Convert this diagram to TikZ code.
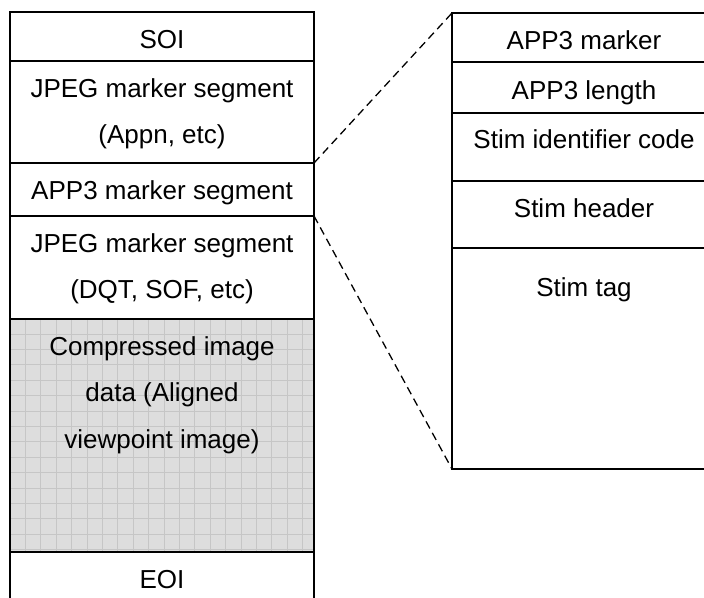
\documentclass[tikz,border=0pt]{standalone}
\usepackage{fontspec}
\setmainfont{Liberation Sans}
\definecolor{gridfill}{HTML}{DDDDDD}
\definecolor{gridln}{HTML}{C6C6C6}
\begin{document}
\begin{tikzpicture}[x=1pt,y=-1pt,
  lbox/.style={draw, line width=2pt, minimum width=304pt, inner sep=0pt, outer sep=0pt, anchor=north west},
  rbox/.style={draw, line width=2pt, minimum width=264pt, inner sep=0pt, outer sep=0pt, anchor=north west},
  txt/.style={anchor=base, align=center, inner sep=0pt, font=\fontsize{26}{46.5}\selectfont},
  zoomline/.style={line width=1.3pt, dash pattern=on 8pt off 5pt}]
\useasboundingbox (0,0) rectangle (704,597);
\clip (0,0) rectangle (704,597);
% grid background of the compressed data area
\fill[gridfill] (10,318.5) rectangle (314,552);
\begin{scope}
\clip (10,318.5) rectangle (314,552);
\foreach \i in {1,...,19} \draw[gridln, line width=0.7pt] ({10+\i*15.4},318.5) -- ({10+\i*15.4},552);
\foreach \j in {1,...,15} \draw[gridln, line width=0.7pt] (10,{318.5+\j*15.4}) -- (314,{318.5+\j*15.4});
\end{scope}
% left column
\node[lbox, minimum height=49pt] (soi) at (10,12) {};
\node[lbox, minimum height=102pt] (jpeg1) at (10,61) {};
\node[lbox, minimum height=53pt] (app3) at (10,163) {};
\node[lbox, minimum height=102.5pt] (jpeg2) at (10,216) {};
\node[lbox, minimum height=233.5pt] (comp) at (10,318.5) {};
\node[lbox, minimum height=52pt] (eoi) at (10,552) {};
% text nodes: base anchor is the baseline of the last line
\node[txt] (tsoi) at ([yshift=-36pt]soi.north) {SOI};
\node[txt] (tjpeg1) at ([yshift=-82.5pt]jpeg1.north) {JPEG marker segment\\(Appn, etc)};
\node[txt] (tapp3) at ([yshift=-36pt]app3.north) {APP3 marker segment};
\node[txt] (tjpeg2) at ([yshift=-82.5pt]jpeg2.north) {JPEG marker segment\\(DQT, SOF, etc)};
\node[txt] (tcomp) at ([yshift=-129.5pt]comp.north) {Compressed image\\data (Aligned\\viewpoint image)};
\node[txt] (teoi) at ([yshift=-36pt]eoi.north) {EOI};
% right column
\node[rbox, minimum height=49pt] (r1) at (452,13) {};
\node[rbox, minimum height=51pt] (r2) at (452,62) {};
\node[rbox, minimum height=68pt] (r3) at (452,113) {};
\node[rbox, minimum height=67pt] (r4) at (452,181) {};
\node[rbox, minimum height=221pt] (r5) at (452,248) {};
\node[txt] (tr1) at ([yshift=-36pt]r1.north) {APP3 marker};
\node[txt] (tr2) at ([yshift=-37pt]r2.north) {APP3 length};
\node[txt] (tr3) at ([yshift=-35pt]r3.north) {Stim identifier code};
\node[txt] (tr4) at ([yshift=-36pt]r4.north) {Stim header};
\node[txt] (tr5) at ([yshift=-48pt]r5.north) {Stim tag};
% zoom connectors
\draw[zoomline] (app3.north east) -- (r1.north west);
\draw[zoomline] (app3.south east) -- (r5.south west);
\end{tikzpicture}
\end{document}
